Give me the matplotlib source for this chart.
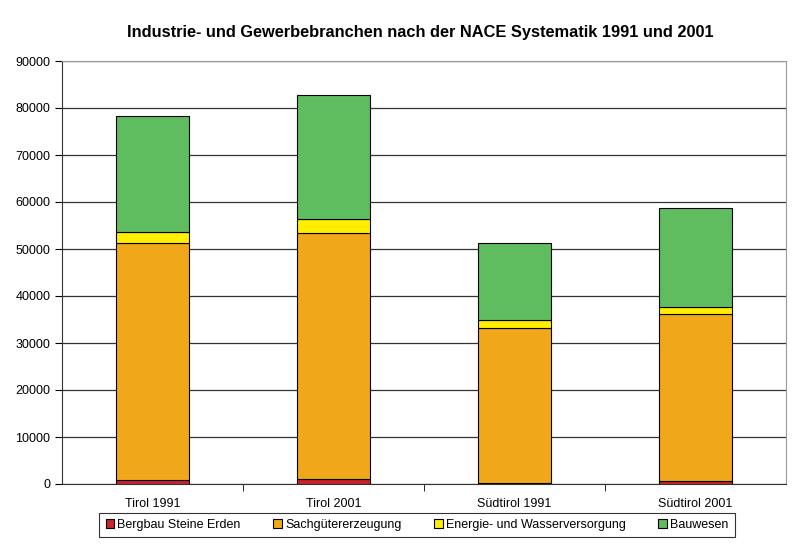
import numpy as np
import matplotlib.pyplot as plt

categories = ['Tirol 1991', 'Tirol 2001', 'Südtirol 1991', 'Südtirol 2001']
bergbau = [850, 1100, 300, 600]
sachgueter = [50350, 52300, 32900, 35600]
energie = [2400, 3000, 1700, 1500]
bauwesen = [24700, 26400, 16400, 21000]

series = [
    ('Bergbau Steine Erden', bergbau, '#cc2229'),
    ('Sachgütererzeugung', sachgueter, '#f0a81a'),
    ('Energie- und Wasserversorgung', energie, '#ffee00'),
    ('Bauwesen', bauwesen, '#5fbd5f'),
]

plt.rcParams['font.family'] = ['Liberation Sans', 'DejaVu Sans']

fig = plt.figure(figsize=(8, 5.54), dpi=100)
ax = fig.add_axes([62 / 800, 1 - 484 / 554, 724 / 800, 423 / 554])

x = np.arange(len(categories))
bottom = np.zeros(len(categories))
handles = []
for name, vals, col in series:
    h = ax.bar(x, vals, 0.4, bottom=bottom, color=col, edgecolor='black',
               linewidth=0.8, label=name, zorder=3)
    handles.append(h)
    bottom += np.array(vals)

ax.set_xlim(-0.5, 3.5)
ax.set_ylim(0, 90000)
ax.set_yticks(np.arange(0, 90001, 10000))
ax.yaxis.grid(True, color='#333333', linewidth=0.9, zorder=0)
ax.set_xticks(x)
ax.set_xticklabels(categories, fontsize=9)
ax.set_xticks([0.5, 1.5, 2.5], minor=True)
ax.tick_params(axis='x', which='major', length=0, pad=10)
ax.tick_params(axis='x', which='minor', length=5, direction='out')
ax.tick_params(axis='y', labelsize=9, length=5, direction='out')

for s in ['top', 'right']:
    ax.spines[s].set_color('#999999')
ax.spines['left'].set_color('#333333')
ax.spines['bottom'].set_color('#333333')

fig.suptitle('Industrie- und Gewerbebranchen nach der NACE Systematik 1991 und 2001',
             fontsize=11.8, fontweight='bold', x=420 / 800, y=1 - 32 / 554,
             va='center')

leg = fig.legend(handles=handles, loc='center', ncol=4, fontsize=9,
                 bbox_to_anchor=(417 / 800, 1 - 525 / 554), frameon=True,
                 fancybox=False, edgecolor='black', handlelength=0.7,
                 handleheight=0.7, handletextpad=0.25, columnspacing=2.6,
                 borderpad=0.5, borderaxespad=0)
leg.get_frame().set_linewidth(0.8)

fig.savefig('out.png', dpi=100)
